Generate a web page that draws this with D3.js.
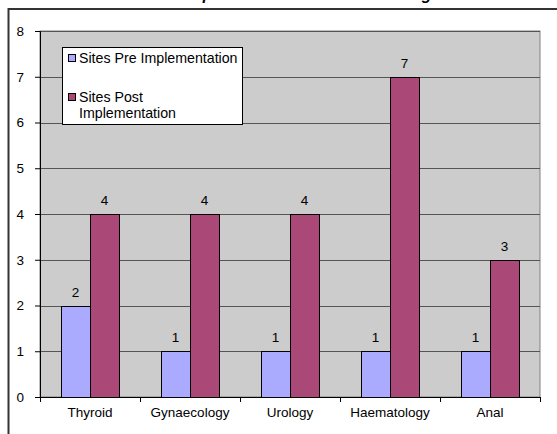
<!DOCTYPE html>
<html>
<head>
<meta charset="utf-8">
<script src="https://cdn.jsdelivr.net/npm/d3@7"></script>
<style>
  body { margin: 0; background: #fff; }
  svg { display: block; font-family: "Liberation Sans", Arial, sans-serif; }
</style>
</head>
<body>
<svg id="chart" width="557" height="434"></svg>
<script>
const categories = ["Thyroid", "Gynaecology", "Urology", "Haematology", "Anal"];
const preValues = [2, 1, 1, 1, 1];
const postValues = [4, 4, 4, 7, 3];
const seriesNames = ["Sites Pre Implementation", "Sites Post Implementation"];
const yTicks = [0, 1, 2, 3, 4, 5, 6, 7, 8];
const title = "Sites per Tumour Site Post Training";

const colors = ["#aaaaff", "#aa4978"];

const svg = d3.select("#chart");
const plot = { left: 40, right: 540, top: 31, bottom: 397 };

// frame + title (mostly cut off above the window)
svg.append("text")
    .attr("x", 160).attr("y", 0)
    .attr("font-size", 16).attr("font-weight", "bold").attr("font-style", "italic")
    .text(title);
svg.append("path")
    .attr("d", "M8.5,440V9H560")
    .attr("fill", "none").attr("stroke", "#333").attr("stroke-width", 2);

const x0 = d3.scaleBand().domain(categories).range([plot.left, plot.right]).padding(0);
const x1 = d3.scaleBand().domain([0, 1]).range([21, 79]);
const y = d3.scaleLinear().domain([0, 8]).range([plot.bottom, plot.top]);

svg.append("rect")
    .attr("x", plot.left).attr("y", plot.top)
    .attr("width", plot.right - plot.left).attr("height", plot.bottom - plot.top)
    .attr("fill", "#cccccc").attr("stroke", "#808080");

// gridlines
svg.append("g").selectAll("line")
  .data(yTicks.slice(1))
  .join("line")
    .attr("x1", plot.left).attr("x2", plot.right)
    .attr("y1", d => Math.round(y(d)) + 0.5).attr("y2", d => Math.round(y(d)) + 0.5)
    .attr("stroke", "#555");

// bars
const rows = categories.map((c, i) => ({ cat: c, vals: [preValues[i], postValues[i]] }));
const groups = svg.append("g").selectAll("g")
  .data(rows)
  .join("g")
    .attr("transform", d => `translate(${x0(d.cat)},0)`);

groups.selectAll("rect")
  .data(d => d.vals.map((v, k) => ({ v, k })))
  .join("rect")
    .attr("x", d => Math.round(x1(d.k)) + 0.5)
    .attr("y", d => Math.round(y(d.v)) + 0.5)
    .attr("width", x1.bandwidth())
    .attr("height", d => Math.round(y(0)) - Math.round(y(d.v)))
    .attr("fill", d => colors[d.k])
    .attr("stroke", "#000");

groups.selectAll("text")
  .data(d => d.vals.map((v, k) => ({ v, k })))
  .join("text")
    .attr("x", d => x1(d.k) + x1.bandwidth() / 2)
    .attr("y", d => y(d.v) - 9)
    .attr("text-anchor", "middle")
    .attr("font-size", 13.5)
    .text(d => d.v);

// y axis
const yAxis = svg.append("g")
    .attr("transform", `translate(${plot.left},0)`)
    .call(d3.axisLeft(y).tickValues(yTicks).tickSize(5).tickPadding(11).tickFormat(d3.format("d")));
yAxis.selectAll("text").attr("font-size", 13.5).attr("fill", "#000").attr("font-family", "Liberation Sans, Arial");
yAxis.selectAll("line,path").attr("stroke", "#000");

// x axis
const xAxis = svg.append("g")
    .attr("transform", `translate(0,${plot.bottom})`)
    .call(d3.axisBottom(x0).tickSize(0).tickPadding(10));
xAxis.selectAll("text").attr("font-size", 13.5).attr("fill", "#000").attr("font-family", "Liberation Sans, Arial");
xAxis.select(".domain").attr("stroke", "#000");
xAxis.append("g").selectAll("line")
  .data(d3.range(categories.length + 1))
  .join("line")
    .attr("x1", d => plot.left + d * x0.step() + 0.5)
    .attr("x2", d => plot.left + d * x0.step() + 0.5)
    .attr("y1", 0).attr("y2", 5)
    .attr("stroke", "#000");

// legend
const legend = svg.append("g").attr("transform", "translate(62,47)");
legend.append("rect")
    .attr("x", 0.5).attr("y", 0.5).attr("width", 180).attr("height", 77)
    .attr("fill", "#fff").attr("stroke", "#000");
const legendLines = [["Sites Pre Implementation"], ["Sites Post", "Implementation"]];
legendLines.forEach((lines, k) => {
  const top = k === 0 ? 11 : 50;
  legend.append("rect")
      .attr("x", 6.5).attr("y", top - 3.5).attr("width", 7).attr("height", 7)
      .attr("fill", colors[k]).attr("stroke", "#000");
  lines.forEach((t, j) => {
    legend.append("text")
        .attr("x", 17).attr("y", top + 5 + j * 16)
        .attr("font-size", 14.2)
        .text(t);
  });
});
</script>
</body>
</html>
